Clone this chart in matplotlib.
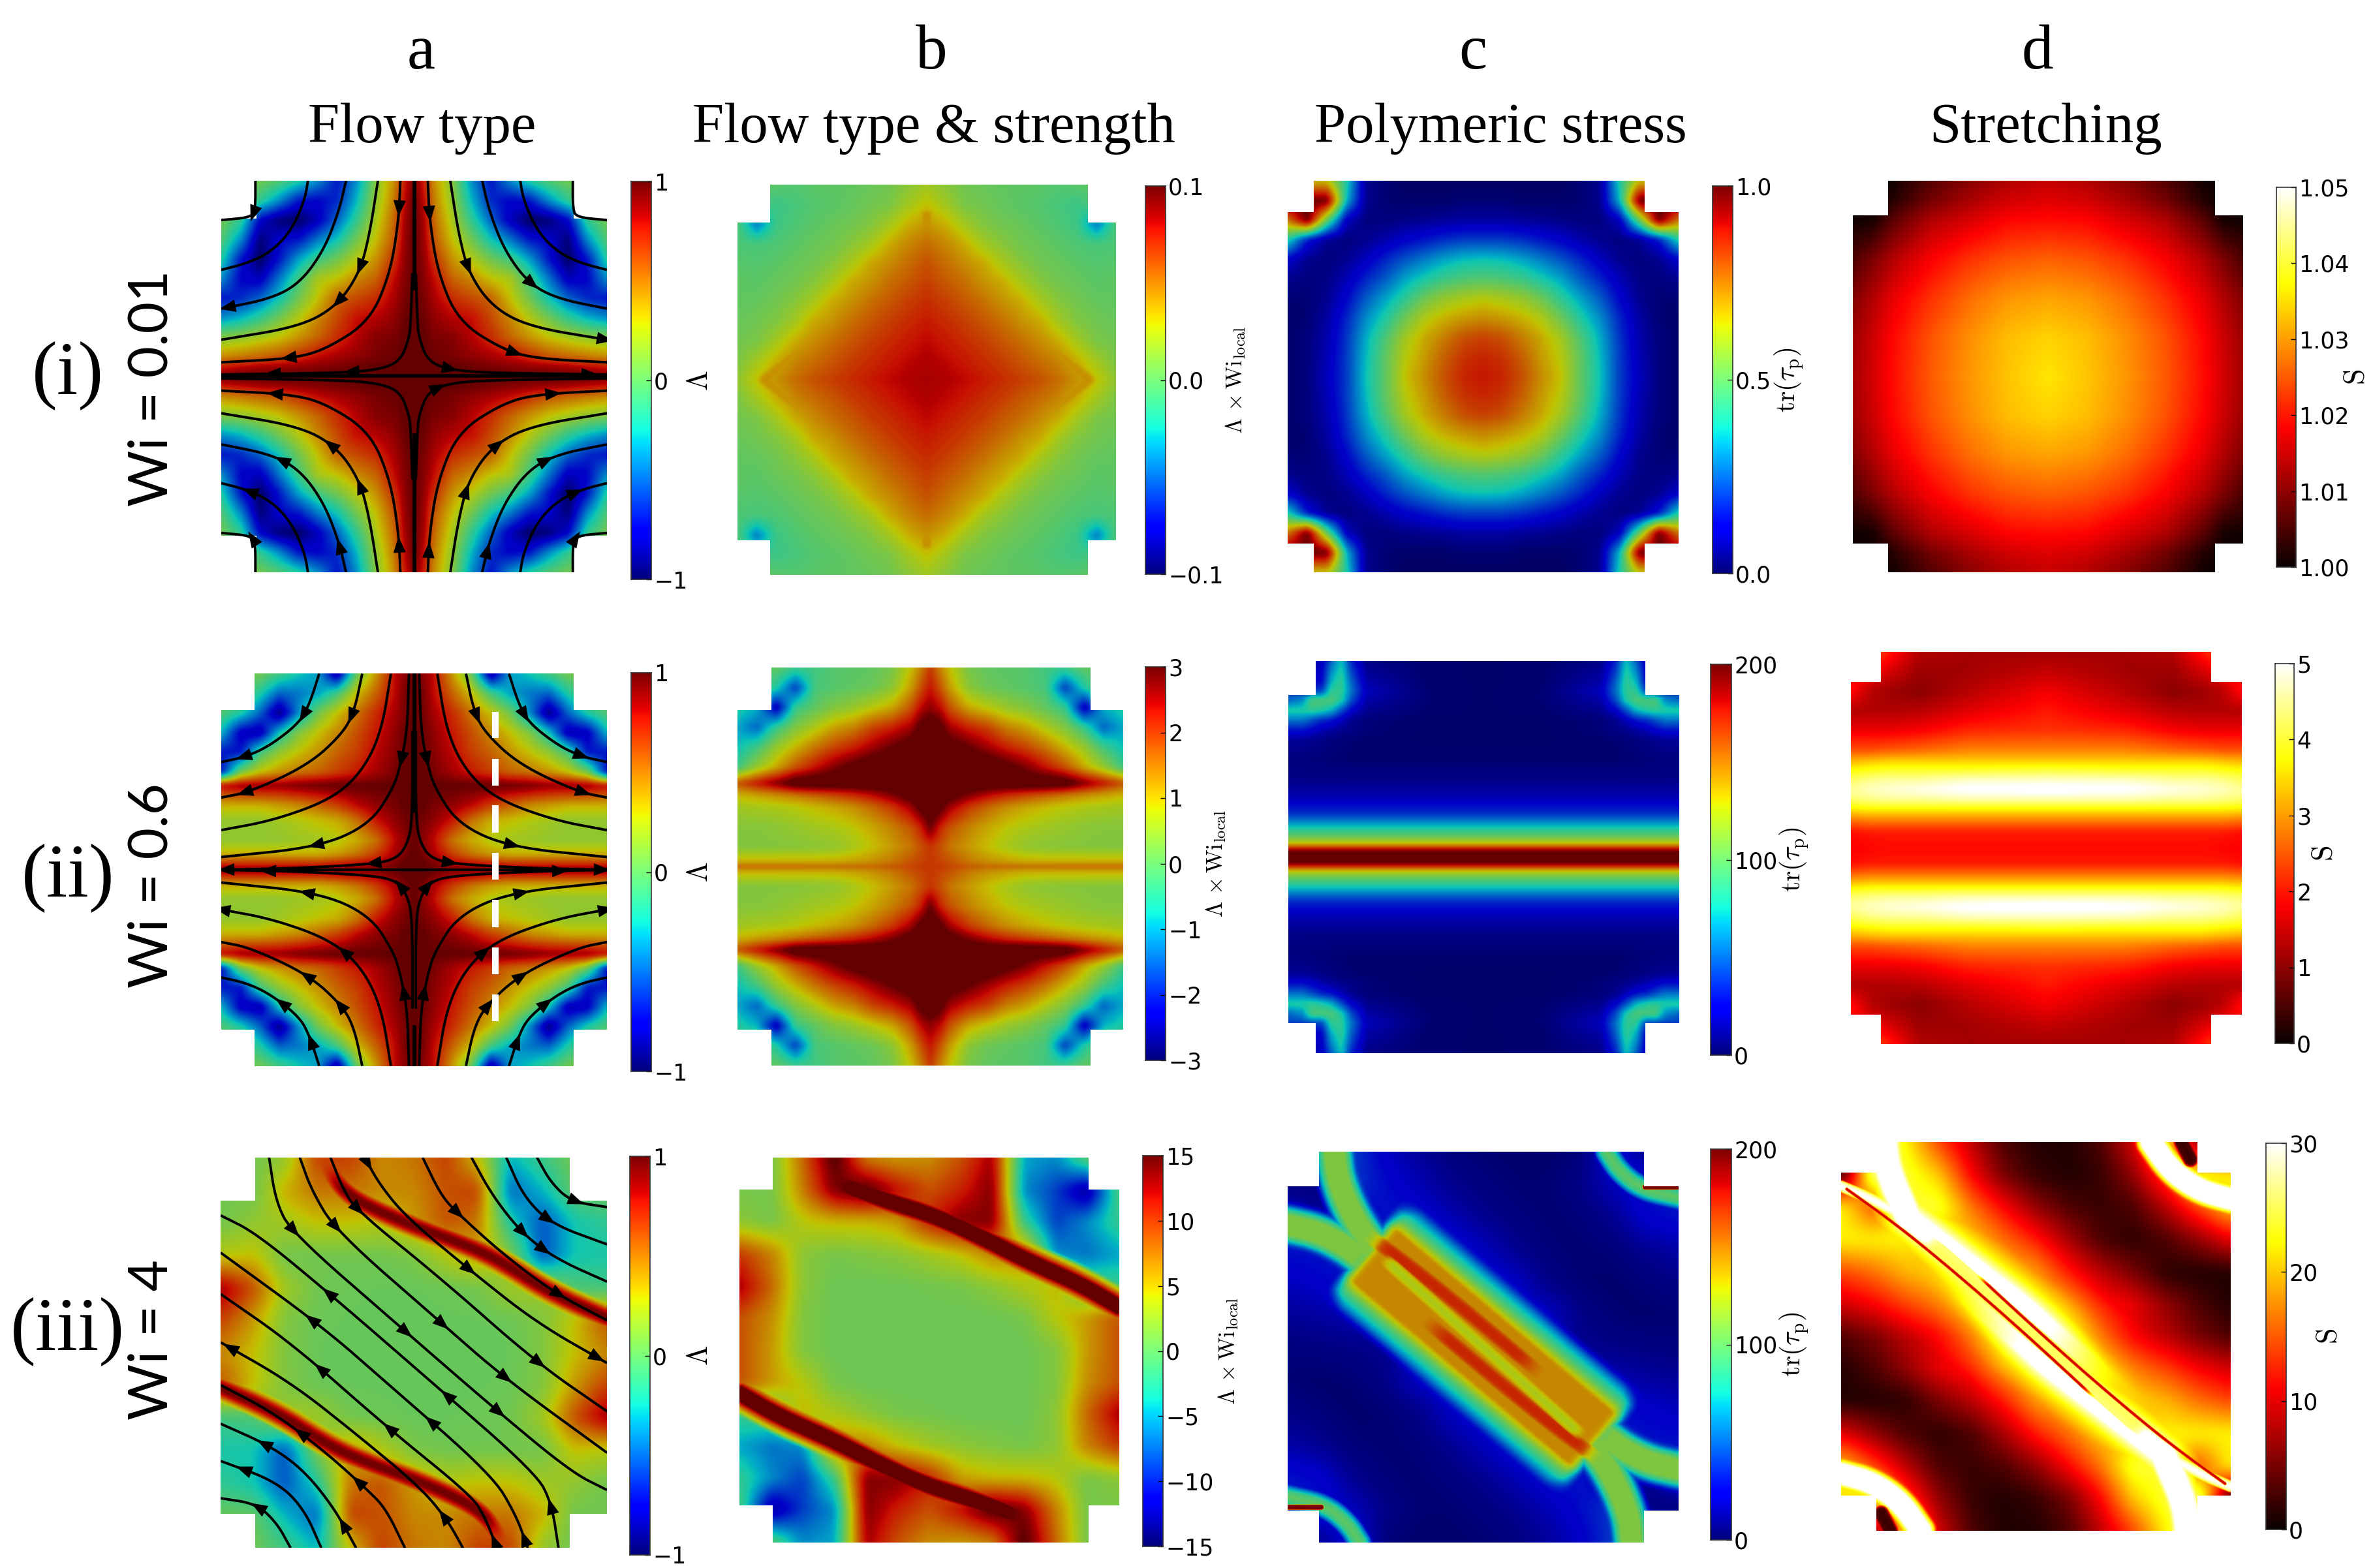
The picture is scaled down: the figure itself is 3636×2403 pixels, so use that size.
import numpy as np
import matplotlib
matplotlib.use('Agg')
import matplotlib.pyplot as plt
from matplotlib.colors import ListedColormap
from matplotlib.patches import Polygon

plt.rcParams['mathtext.fontset'] = 'cm'
W, H = 3637, 2403
NARROW = ['Liberation Sans Narrow', 'DejaVu Sans']

# ---------- data ----------
N_A = [0, .05, .1, .2, .3, .4, .5, .6, .7, .8, .9, 1]
A1 = [[1,1,1,1,1,1,1,1,1,1,1,.95],
 [1,1,1,1,.98,.95,.92,.9,.88,.85,.8,.75],
 [1,1,.98,.95,.9,.85,.8,.7,.6,.55,.5,.45],
 [1,1,.95,.92,.82,.7,.55,.42,.3,.22,.15,.1],
 [1,.98,.9,.82,.78,.62,.45,.25,.05,-.15,-.3,-.4],
 [1,.95,.85,.7,.62,.55,.3,.05,-.25,-.5,-.65,-.7],
 [1,.92,.8,.55,.45,.3,.22,-.1,-.45,-.8,-.75,-.4],
 [1,.9,.7,.42,.25,.05,-.1,-.35,-.7,-1,-.7,-.2],
 [1,.88,.6,.3,.05,-.25,-.45,-.7,-.75,-.95,-.4,-.05],
 [1,.85,.55,.22,-.15,-.5,-.8,-1,-.95,-.75,-.15,.05],
 [1,.8,.5,.15,-.3,-.65,-.75,-.7,-.4,-.15,.05,.05],
 [.95,.75,.45,.1,-.4,-.7,-.4,-.2,-.05,.05,.05,.05]]
Y_A2 = [0,.03,.08,.15,.25,.33,.43,.5,.6,.7,.8,.9,1]
A2 = [[1,1,.98,.95,.95,.95,.95,.95,.95,.95,.95,.95],
 [1,1,.95,.85,.8,.75,.7,.7,.7,.7,.7,.7],
 [1,.95,.85,.65,.5,.4,.35,.35,.35,.35,.35,.35],
 [1,.9,.8,.5,.35,.25,.2,.18,.15,.15,.15,.15],
 [1,.95,.9,.75,.5,.35,.3,.25,.2,.15,.15,.15],
 [1,1,.95,.9,.8,.65,.55,.45,.4,.35,.35,.35],
 [1,1,1,1,1,1,.98,.95,.9,.9,.88,.8],
 [1,1,.95,.85,.75,.65,.55,.5,.42,.3,.05,-.7],
 [1,.98,.92,.8,.65,.55,.42,.3,.15,-.1,-.7,-.7],
 [1,.98,.9,.75,.6,.45,.3,.1,-.25,-.85,-.8,-.3],
 [1,.95,.85,.7,.5,.3,.05,-.4,-.95,-.5,-.2,-.05],
 [1,.95,.8,.55,.3,-.1,-.35,-.45,-.5,-.2,0,.05],
 [1,.9,.8,.4,0,-.9,-.35,-.25,-.1,.05,.05,.05]]
X_A3 = [-1,-.83,-.67,-.5,-.33,-.17,0,.17,.33,.5,.67,.83,1]
Y_A3 = [1,.83,.67,.5,.33,.17,0]
A3 = [[.05,.05,.15,.65,.65,.45,.5,.65,.3,-.3,-.1,.05,.05],
 [.05,.05,.35,.5,.5,.45,.45,.6,.65,-.5,-.3,0,.02],
 [.05,.15,.2,.3,.3,.25,.4,.6,.5,-.2,-.55,-.25,-.15],
 [.25,.3,.05,.05,.05,.05,.08,.25,.4,.1,-.55,-.25,-.22],
 [.9,.6,.2,.05,.03,.02,.02,.03,.05,.2,.2,-.05,-.1],
 [.65,.4,.1,.03,.02,.02,.02,.02,.02,.03,.1,.3,.6],
 [.45,.3,.1,.02,.02,.02,.02,.02,.02,.02,.1,.3,.45]]

N_B1 = [0,.1,.2,.3,.4,.5,.6,.7,.8,.9,1]
B1 = [[.085,.083,.08,.075,.07,.065,.06,.052,.042,.03,.015],
 [.083,.08,.075,.07,.065,.058,.052,.045,.034,.02,.008],
 [.08,.075,.07,.065,.058,.052,.044,.035,.02,.008,.005],
 [.075,.07,.065,.058,.052,.042,.036,.02,.01,.005,.002],
 [.07,.065,.058,.052,.042,.036,.022,.012,.005,.001,0],
 [.065,.058,.052,.042,.036,.022,.012,.005,.002,-.002,0],
 [.06,.052,.044,.036,.022,.012,.005,.002,-.002,-.004,-.003],
 [.052,.045,.035,.02,.012,.005,.002,-.002,-.006,-.008,-.006],
 [.042,.034,.02,.01,.005,.002,-.002,-.006,-.012,-.045,-.006],
 [.03,.02,.008,.005,.001,-.002,-.004,-.008,-.012,-.005,0],
 [.02,.012,.005,.002,0,0,-.002,-.004,-.002,0,0]]
Y_B2 = [0,.02,.1,.2,.3,.36,.42,.5,.6,.7,.8,.9,1]
B2 = [[2,2,1.9,1.8,1.7,1.7,1.7,1.7,1.7,1.7,1.7,1.7],
 [2,1.9,1.8,1.5,1.3,1.2,1.1,1.1,1.1,1.1,1.1,1.1],
 [2,1.8,1.5,1.2,.9,.65,.45,.38,.35,.33,.32,.32],
 [3,2.2,1.8,1.4,1.1,.85,.7,.6,.5,.4,.35,.35],
 [3.5,3.2,2.6,2,1.6,1.3,1.1,.95,.8,.7,.65,.6],
 [3.5,3.5,3.3,2.8,2.4,2.1,1.9,1.7,1.5,1.3,1.15,1],
 [3.5,3.5,3.5,3.5,3.5,3.5,3.5,3.5,3.4,2.8,2.3,1.8],
 [3.5,3.5,3.5,3.5,3.5,3.2,2.8,2.3,1.8,1.1,.5,-.3],
 [3.5,3.5,3.3,3,2.6,2.2,1.9,1.5,1,.5,-.3,-.8],
 [3.5,3.2,2.6,2.2,1.9,1.4,1.15,.7,.3,-.4,-1.5,-1],
 [2.7,2.4,1.8,1.1,.8,.5,.3,0,-.4,-2.5,-.9,-.6],
 [2.3,1.8,1.2,.4,.1,0,-.1,-.25,-1.8,-.6,0,0],
 [2,1.4,.9,.2,0,-.05,-.1,-.3,-.35,0,0,0]]
B3 = [[0,1,8,16,7,6,6.5,9,13,-5,-6,0,1],
 [1,1,7,14,16,12,9,11,14,-6,-9,-14,-1],
 [2,1,4,5,5,6,11,14,14,-2,-9,-6,-2],
 [10,7,2,1,1.5,2,3,4.5,7,7,-6,-7,-5],
 [13,8,2,.5,.5,.5,.8,1,2,3.5,5,-1,-2],
 [9,6.5,1.5,.5,.5,.5,.5,.5,.5,1,4,6,9],
 [9,6,1.5,.5,.5,.5,.5,.5,.5,.5,1.5,6,9]]

C1 = [[.88,.86,.8,.72,.65,.5,.37,.2,.1,.03,.01],
 [.86,.84,.78,.7,.63,.5,.36,.2,.09,.03,.01],
 [.82,.8,.74,.68,.6,.47,.34,.19,.08,.03,.01],
 [.72,.7,.67,.62,.52,.4,.3,.17,.07,.02,.01],
 [.63,.61,.58,.52,.42,.33,.24,.13,.05,.02,.02],
 [.48,.47,.44,.39,.33,.24,.17,.09,.04,.03,.05],
 [.37,.36,.33,.28,.23,.17,.1,.05,.03,.05,.12],
 [.2,.2,.18,.15,.12,.08,.05,.03,.05,.15,.4],
 [.07,.07,.06,.05,.04,.03,.03,.1,.5,1,.75],
 [.02,.02,.01,.01,.01,.02,.05,.35,1,1,1],
 [0,0,0,0,0,.02,.05,.4,.65,.65,.65]]
X_C2 = [0,.3,.6,.68,.73,.78,.83,.88,.93,1]
Y_C2 = [0,.03,.05,.07,.1,.13,.17,.22,.3,.4,.5,.6,.65,.7,.75,.8,.85,.9,1]
C2 = [[210]*10,[200]*10,[165]*10,[130]*10,[105]*10,[88]*10,[65]*10,[38]*10,[18]*10,[8]*10,
 [3,3,3,3,4,4,5,5,6,6],
 [2,2,3,4,5,6,8,10,12,12],
 [2,2,5,8,10,14,18,25,30,30],
 [2,2,5,10,20,30,35,45,55,55],
 [2,3,10,25,45,70,80,85,80,80],
 [2,4,15,45,80,95,95,95,60,50],
 [2,4,20,55,85,85,40,40,40,40],
 [2,3,15,50,85,70,25,25,25,25],
 [2,3,8,35,75,50,20,15,15,15]]
X_C3 = X_A3
C3 = [[5,60,40,22,12,6,4,3,3,5,30,10,5],
 [5,5,40,28,18,10,6,4,4,8,20,30,30],
 [25,10,15,30,28,18,10,6,4,5,10,25,30],
 [30,30,30,30,35,30,20,10,5,4,5,10,15],
 [20,25,30,35,30,30,28,22,8,4,3,5,8],
 [12,14,18,22,30,30,30,30,22,8,4,3,4],
 [6,7,8,10,22,30,30,30,22,10,8,7,6]]
N_D1 = [0,.2,.4,.6,.8,.9,1]
D1 = [[1.0355,1.033,1.0295,1.025,1.019,1.015,1.0115],
 [1.034,1.0325,1.029,1.0245,1.0185,1.0145,1.011],
 [1.0305,1.0295,1.0265,1.022,1.0165,1.0125,1.009],
 [1.0255,1.0245,1.022,1.018,1.0125,1.0085,1.005],
 [1.019,1.0185,1.0155,1.0125,1.006,1.001,1.0005],
 [1.016,1.015,1.012,1.008,1.002,1,1],
 [1.014,1.0125,1.0095,1.0055,1.0005,1,1]]
X_D2 = [0,.4,.65,.8,.9,1]
Y_D2 = [0,.08,.15,.2,.25,.3,.35,.4,.45,.5,.6,.7,.8,.9,1]
D2 = [[1.9,1.9,1.9,1.9,1.85,1.8],
 [2,2,2,2,2,1.9],
 [2.9,2.9,2.9,2.9,2.9,2.8],
 [3.7,3.7,3.7,3.7,3.7,3.6],
 [4.6,4.6,4.5,4.5,4.4,4.3],
 [5.2,5.1,4.9,4.8,4.7,4.5],
 [4.7,4.7,4.5,4.5,4.4,4.2],
 [4,3.9,3.9,3.9,3.8,3.7],
 [3.3,3.3,3.3,3.3,3.2,3.1],
 [2.8,2.8,2.6,2.5,2.4,2.4],
 [2.2,2.1,1.8,1.7,1.7,1.7],
 [2,1.6,1.3,1.25,1.25,1.25],
 [1.75,1.3,.95,1.1,1.3,1.9],
 [1.4,1.15,1.1,1.5,1.8,2],
 [1.15,1.15,1.25,2,2.5,2.5]]
D3 = [[0,28,22,14,8,3,1,1,3,9,22,5,5],
 [1,28,24,20,11,5,2,1,2,6,14,24,22],
 [22,14,24,24,16,11,6,3,2,3,8,14,20],
 [22,22,22,20,20,16,12,7,3,1.5,3,6,10],
 [14,16,19,20,20,20,18,12,8,5,1.5,1,1],
 [9,11,14,16,18,20,20,18,12,10,6,3,1],
 [3,5,8,10,13,17,20,17,13,10,8,5,3]]

# streamline traces, in reference-crop units, inlet to outlet
A1_LINES = [[(1105,85),(1105,190),(1115,222),(1205,232)],
 [(950,85),(960,160),(1000,270),(1060,345),(1130,385),(1205,408)],
 [(838,85),(860,200),(905,340),(975,455),(1060,510),(1205,545)],
 [(745,85),(770,280),(800,420),(870,540),(980,610),(1205,655)],
 [(680,85),(685,230),(710,420),(770,590),(900,690),(1000,722),(1205,735)],
 [(645,420),(650,600),(655,650),(680,730),(740,760),(850,772),(1205,778)]]
A1_ARROWS = [(680,205),(790,405),(980,460),(930,705),(1195,650),(745,757),(603,190),(495,390),(430,515),
 (100,535),(280,715),(465,767),(180,205),(415,1020),(258,1075),(170,1185),(245,835),(180,1350),(495,1175),
 (435,1385),(598,1390),(865,1020),(1025,1075),(1105,1185),(1035,835),(1100,1350),(780,1195),(845,1405),
 (683,1410),(705,820),(1140,782),(215,785)]
A2_LINES = [[(918,98),(945,200),(975,270),(1060,350),(1130,390),(1205,410)],
 [(792,98),(815,230),(850,310),(950,420),(1120,515),(1205,535)],
 [(708,98),(735,300),(790,440),(880,540),(1050,615),(1205,650)],
 [(655,98),(660,300),(680,420),(700,500),(770,630),(920,710),(1205,745)],
 [(645,300),(645,620),(660,700),(690,750),(760,770),(1000,785),(1205,790)]]
A2_ARROWS = [(320,245),(460,240),(145,385),(155,515),(610,400),(345,710),(530,770),(100,785),(215,800),(605,845),
 (330,870),(80,935),(820,240),(960,245),(1130,385),(1125,515),(670,400),(935,710),(745,770),(1060,800),(1180,785),
 (675,845),(950,870),(1200,935),(445,1070),(340,1155),(260,1255),(435,1270),(350,1395),(610,1225),(670,1225),
 (830,1070),(935,1155),(1015,1255),(845,1270),(930,1395)]
A3_LINES = [[(1000,80),(1040,170),(1100,240),(1205,260)],
 [(910,80),(960,220),(1040,320),(1205,395)],
 [(808,80),(870,220),(960,360),(1060,450),(1205,530)],
 [(665,80),(720,220),(770,285),(900,430),(1050,570),(1205,670)],
 [(495,80),(540,180),(620,300),(810,495),(1000,680),(1205,825)],
 [(395,80),(430,190),(470,270),(720,520),(995,820),(1205,1000)],
 [(305,80),(340,200),(410,345),(720,680),(905,880),(1205,1150)],
 [(215,80),(235,240),(280,350),(600,695),(875,990),(1100,1220),(1205,1285)]]
A3_ARROWS = [(510,95),(280,350),(405,345),(470,270),(765,285),(605,695),(720,680),(805,490),(1030,300),(950,360),
 (1005,420),(1115,238),(1050,570),(995,820),(905,880),(875,990),(1180,805),(100,800),(360,590),(330,695),(360,870),
 (740,980),(685,1065),(575,1090),(295,1090),(195,1145),(145,1250),(470,1265),(180,1375),(430,1430),(715,1405),
 (870,1485),(965,1470),(1040,1355)]
DASH_STARTS = [232,398,563,730,897,1063,1229]
DASH_ENDS = [325,492,658,825,992,1158,1324]

# ridges: path in crop units, (distance px, value) profile, fade lengths at each end, blend mode
B1_RIDGES = [([(597,215),(600,300),(720,410),(850,590),(1000,730),(1060,795)],
              [(0,.043),(5,.041),(12,.03),(20,.012)], (0,0), 'max'),
             ([(597,215),(594,300),(474,410),(344,590),(194,730),(134,795)],
              [(0,.043),(5,.041),(12,.03),(20,.012)], (0,0), 'max')]
A3_RIDGES = [([(380,80),(400,150),(460,230),(620,320),(800,400),(900,460),(1040,570),(1205,660)],
              [(0,.97),(4,.95),(10,.75),(16,.4),(24,.15)], (60,0), 'max')]
B3_RIDGES = [([(340,170),(470,230),(620,290),(750,365),(880,450),(1040,540),(1148,620)],
              [(0,17),(9,16),(15,10),(22,4.5),(32,1.5)], (40,0), 'max')]
C3_RIDGES = [([(270,395),(621,768),(970,1140)], [(0,145),(50,145),(58,125),(68,100),(84,70),(110,30)], (40,40), 'max'),
 ([(195,60),(205,170),(262,330),(340,450)], [(0,110),(14,110),(22,85),(30,45),(40,25)], (0,30), 'max'),
 ([(62,325),(150,350),(240,410),(300,480)], [(0,110),(14,110),(22,85),(30,45),(40,25)], (0,30), 'max'),
 ([(285,355),(480,540),(800,880)], [(0,172),(6,170),(14,145)], (50,60), 'max'),
 ([(330,440),(621,768),(912,1096)], [(0,122),(6,128),(12,145)], (30,30), 'blend'),
 ([(975,60),(1010,130),(1075,195),(1180,225)], [(0,100),(8,90),(14,60),(22,20)], (0,0), 'max'),
 ([(1085,187),(1180,187)], [(0,195),(3,195),(5,120)], (0,0), 'max')]
D3_RIDGES = [([(262,335),(400,470),(620,680),(800,870),(960,1050)], [(0,33),(10,33),(18,28),(32,22),(60,16),(90,11),(130,4)], (0,300), 'max'),
 ([(195,70),(205,170),(262,335)], [(0,33),(14,33),(24,24),(40,16)], (0,0), 'max'),
 ([(75,225),(160,270),(262,340)], [(0,31),(5,28),(10,22)], (0,0), 'max'),
 ([(945,70),(1000,170),(1080,240),(1167,270)], [(0,33),(13,33),(18,25),(28,12)], (0,0), 'max'),
 ([(1030,70),(1055,130)], [(0,2),(8,3),(14,14)], (0,0), 'blend'),
 ([(300,400),(621,753),(942,1107)], [(0,25),(9,26),(14,24)], (40,40), 'blend'),
 ([(90,235),(240,370),(400,535),(560,710),(700,870),(790,975)], [(0,8),(1.5,10),(3,24)], (0,30), 'blend')]

TITLES = ['Flow type', 'Flow type & strength', 'Polymeric stress', 'Stretching']
LETTERS = ['a', 'b', 'c', 'd']
ROWS = ['(i)', '(ii)', '(iii)']
WI = ['Wi = 0.01', 'Wi = 0.6', 'Wi = 4']

# ---------- layout (pixels) ----------
# left,right,top,bottom, notch-left,notch-right,notch-top,notch-bottom
P = {'a1':(339,930,277,877,393,879,335,821),'a2':(339,930,1032,1634,390,879,1088,1578),'a3':(338,930,1774,2372,391,873,1840,2320),
     'b1':(1130,1710,283,881,1180,1667,341,828),'b2':(1130,1721,1023,1633,1182,1671,1088,1578),'b3':(1133,1715,1774,2364,1184,1668,1823,2307),
     'c1':(1973,2572,277,877,2013,2520,325,833),'c2':(1974,2573,1013,1614,2016,2521,1065,1568),'c3':(1973,2572,1765,2364,2021,2519,1818,2315),
     'd1':(2839,3437,277,877,2893,3394,330,833),'d2':(2836,3435,999,1600,2882,3388,1045,1555),'d3':(2821,3418,1750,2346,2875,3367,1797,2292)}
# colorbar left,right,top,bottom, label x
CB = {'a1':(967,998,278,888,1071),'a2':(967,998,1031,1642,1071),'a3':(965,996,1772,2383,1071),
      'b1':(1755,1786,285,880,1893),'b2':(1755,1786,1022,1625,1863),'b3':(1751,1782,1771,2370,1882),
      'c1':(2624,2655,285,879,2741),'c2':(2621,2653,1018,1617,2749),'c3':(2621,2653,1761,2360,2749),
      'd1':(3488,3518,287,869,3610),'d2':(3486,3515,1017,1599,3561),'d3':(3472,3503,1752,2344,3568)}
# reference-crop centre and half widths, for the crop-unit traces
Z = {'a1':(640,785,565,692),'a2':(640,790,565,693),'a3':(639,787.5,566,707),'b1':(597,795,542,690),
     'b3':(605,777.5,543,697.5),'c3':(621,768,559,708),'d3':(621,753.5,546,683.5)}

jet = plt.get_cmap('jet')
dim_jet = ListedColormap(jet(np.linspace(0, 1, 256)) * np.array([.78, .78, .78, 1]))
hot = plt.get_cmap('hot')

fig = plt.figure(figsize=(W/100, H/100), dpi=100, facecolor='white')
N_FINE = 600


def quad(xn, yn, t):
    t = np.array(t, float)
    xs = np.r_[-np.array(xn[:0:-1], float), xn]
    ys = np.r_[-np.array(yn[:0:-1], float), yn]
    t = np.hstack([t[:, :0:-1], t])
    t = np.vstack([t[:0:-1], t])
    return xs, ys, t


def point(xn, yn, t):
    # rows run from the top edge to the middle; the lower half is the upper half turned by 180 degrees
    t = np.array(t, float)
    low = t[:-1][:, ::-1]
    up = t[::-1]
    ys = np.r_[-np.array(yn[:-1], float), np.array(yn, float)[::-1]]
    return np.array(xn, float), ys, np.vstack([low, up])


def fine(xs, ys, t, r):
    g = np.linspace(-1, 1, N_FINE)
    a = np.array([np.interp(g, xs, row) for row in t])
    b = np.array([np.interp(g, ys, col) for col in a.T]).T
    k = np.ones(2*r+1) / (2*r+1)
    for _ in range(2):
        b = np.apply_along_axis(lambda v: np.convolve(np.pad(v, r, mode='edge'), k, 'valid'), 0, b)
        b = np.apply_along_axis(lambda v: np.convolve(np.pad(v, r, mode='edge'), k, 'valid'), 1, b)
    return b


def smooth(pts, n=3):
    p = np.array(pts, float)
    for _ in range(n):
        q = [p[0]]
        for a, b in zip(p[:-1], p[1:]):
            q += [.75*a+.25*b, .25*a+.75*b]
        q.append(p[-1])
        p = np.array(q)
    return p


def norm_pts(key, pts):
    cx, cy, hx, hy = Z[key]
    p = np.asarray(pts, float)
    return np.c_[(p[:, 0]-cx)/hx, (cy-p[:, 1])/hy]


def apply_ridges(F, key, ridges):
    L, R, T, B = P[key][:4]
    hx, hy = (R-L)/2, (B-T)/2
    g = np.linspace(-1, 1, N_FINE)
    X, Y = np.meshgrid(g*hx, g*hy)
    for path, prof, fade, mode in ridges:
        base = smooth(norm_pts(key, path))
        for q in (base, -base):
            px = q * [hx, hy]
            best = np.full(X.shape, 1e12)
            along = np.zeros(X.shape)
            run = 0.0
            for a, b in zip(px[:-1], px[1:]):
                v = b-a
                l2 = (v**2).sum() or 1.0
                u = np.clip(((X-a[0])*v[0]+(Y-a[1])*v[1])/l2, 0, 1)
                d2 = (X-a[0]-u*v[0])**2 + (Y-a[1]-u*v[1])**2
                m = d2 < best
                best[m] = d2[m]
                along[m] = run + u[m]*np.sqrt(l2)
                run += np.sqrt(l2)
            d = np.sqrt(best)
            ds = [p_[0] for p_ in prof]
            vs = [p_[1] for p_ in prof]
            val = np.interp(d, ds, vs)
            w = np.clip((ds[-1]-d)/(.3*ds[-1]), 0, 1)
            if fade[0] > 0:
                w = w*np.clip(along/fade[0], 0, 1)
            if fade[1] > 0:
                w = w*np.clip((run-along)/fade[1], 0, 1)
            w = w*w*(3-2*w)
            new = (1-w)*F + w*val
            F = np.maximum(F, new) if mode == 'max' else new
    return F


def panel(key, xs, ys, t, vmin, vmax, cmap, r=4, ridges=None):
    L, R, T, B, nl, nr, nt, nb = P[key]
    ax = fig.add_axes([L/W, 1-B/H, (R-L)/W, (B-T)/H])
    ax.set_xlim(-1, 1); ax.set_ylim(-1, 1); ax.axis('off')
    F = fine(xs, ys, t, r)
    if ridges:
        F = apply_ridges(F, key, ridges)
    im = ax.imshow(F, origin='lower', extent=[-1, 1, -1, 1], aspect='auto',
                   cmap=cmap, vmin=vmin, vmax=vmax, interpolation='bilinear')
    a, b = 2*(nl-L)/(R-L)-1, 2*(nr-L)/(R-L)-1
    c, d = 1-2*(nt-T)/(B-T), 1-2*(nb-T)/(B-T)
    poly = Polygon([(a,1),(b,1),(b,c),(1,c),(1,d),(b,d),(b,-1),(a,-1),(a,d),(-1,d),(-1,c),(a,c)],
                   closed=True, transform=ax.transData, facecolor='none', edgecolor='none')
    ax.add_patch(poly)
    im.set_clip_path(poly)
    return ax


def arrows(ax, key, lines, spots, size=25):
    L, R, T, B = P[key][:4]
    hx, hy = (R-L)/2, (B-T)/2
    s = norm_pts(key, spots)
    for x, y in s:
        best, tan, pos = 1e9, (1, 0), (x, y)
        for q in lines:
            d = (q[:, 0]-x)**2 + (q[:, 1]-y)**2
            i = int(d.argmin())
            if d[i] < best:
                best = d[i]
                a, b = q[max(i-2, 0)], q[min(i+2, len(q)-1)]
                tan = b-a
                pos = q[i]
        tx, ty = tan[0]*hx, tan[1]*hy
        n = np.hypot(tx, ty) or 1
        tx, ty = tx/n, ty/n
        tip = (pos[0]+tx*size*.6/hx, pos[1]+ty*size*.6/hy)
        b1 = (pos[0]-tx*size*.4/hx-ty*size*.38/hx, pos[1]-ty*size*.4/hy+tx*size*.38/hy)
        b2 = (pos[0]-tx*size*.4/hx+ty*size*.38/hx, pos[1]-ty*size*.4/hy-tx*size*.38/hy)
        ax.add_patch(Polygon([tip, b1, b2], closed=True, facecolor='k', edgecolor='none', zorder=6))


def draw_lines(ax, lines):
    for q in lines:
        ax.plot(q[:, 0], q[:, 1], color='k', lw=2.8, zorder=5, solid_capstyle='butt')


def mirrored(key, raw):
    out = []
    for r in raw:
        q = smooth(norm_pts(key, r))
        out += [q, q*[-1, 1], q*[1, -1], q*[-1, -1]]
    return out


def rotated(key, raw):
    out = []
    for r in raw:
        q = smooth(norm_pts(key, r))
        out += [q, -q]
    return out


def colorbar(key, vmin, vmax, cmap, ticks, labels, label, lsize=25):
    l, r, t, b, lx = CB[key]
    ax = fig.add_axes([l/W, 1-b/H, (r-l)/W, (b-t)/H])
    ax.imshow(np.linspace(vmin, vmax, 256)[:, None], origin='lower', aspect='auto', cmap=cmap,
              vmin=vmin, vmax=vmax, extent=[0, 1, vmin, vmax])
    ax.set_xticks([])
    ax.yaxis.tick_right()
    ax.set_yticks(ticks)
    ax.set_yticklabels(labels, fontsize=25, family=NARROW)
    ax.tick_params(axis='y', direction='in', length=6, width=1, pad=3, color='k')
    for s in ax.spines.values():
        s.set_linewidth(1.2); s.set_color('#333333')
    fig.text(lx/W, 1-(t+b)/2/H, label, rotation=90, ha='center', va='center', fontsize=lsize)


# ---------- panel a ----------
xs, ys, t = quad(N_A, N_A, A1)
ax = panel('a1', xs, ys, t, -1, 1, dim_jet, 3)
ls = mirrored('a1', A1_LINES)
draw_lines(ax, ls)
ax.plot([-1, 1], [.002, .002], color='k', lw=4, zorder=5)
ax.plot([0, 0], [-1, -.3], color='k', lw=4, zorder=5)
ax.plot([0, 0], [.45, 1], color='k', lw=4, zorder=5)
arrows(ax, 'a1', ls, A1_ARROWS)

xs, ys, t = quad(N_A, Y_A2, A2)
ax = panel('a2', xs, ys, t, -1, 1, dim_jet, 3)
ls = mirrored('a2', A2_LINES)
draw_lines(ax, ls)
ax.plot([-1, 1], [0, 0], color='k', lw=3, zorder=5)
ax.plot([0, 0], [-1, -.8], color='k', lw=4, zorder=5)
ax.plot([0, 0], [.3, 1], color='k', lw=4, zorder=5)
arrows(ax, 'a2', ls, A2_ARROWS)
cx, cy, hx, hy = Z['a2']
ax.vlines([(878-cx)/hx]*len(DASH_ENDS), [(cy-e)/hy for e in DASH_ENDS], [(cy-s)/hy for s in DASH_STARTS],
          color='white', lw=7.2, zorder=7)

xs, ys, t = point(X_A3, Y_A3, A3)
ax = panel('a3', xs, ys, t, -1, 1, dim_jet, 9, A3_RIDGES)
ls = rotated('a3', A3_LINES)
draw_lines(ax, ls)
arrows(ax, 'a3', ls, A3_ARROWS)

# ---------- panel b ----------
xs, ys, t = quad(N_B1, N_B1, B1)
panel('b1', xs, ys, t, -.1, .1, dim_jet, 3, B1_RIDGES)
xs, ys, t = quad(N_A, Y_B2, B2)
panel('b2', xs, ys, t, -3, 3, dim_jet, 3)
xs, ys, t = point(X_A3, Y_A3, B3)
panel('b3', xs, ys, t, -15, 15, dim_jet, 7, B3_RIDGES)

# ---------- panel c ----------
xs, ys, t = quad(N_B1, N_B1, C1)
panel('c1', xs, ys, t, 0, 1, dim_jet, 4)
xs, ys, t = quad(X_C2, Y_C2, C2)
panel('c2', xs, ys, t, 0, 200, dim_jet, 3)
xs, ys, t = point(X_C3, Y_A3, C3)
panel('c3', xs, ys, t, 0, 200, dim_jet, 12, C3_RIDGES)

# ---------- panel d ----------
xs, ys, t = quad(N_D1, N_D1, D1)
panel('d1', xs, ys, t, 1, 1.05, hot, 4)
xs, ys, t = quad(X_D2, Y_D2, D2)
panel('d2', xs, ys, t, 0, 5, hot, 4)
xs, ys, t = point(X_C3, Y_A3, D3)
panel('d3', xs, ys, t, 0, 30, hot, 10, D3_RIDGES)

# ---------- colorbars ----------
L_A = r'$\Lambda$'
L_B = r'$\Lambda\,\times\mathrm{Wi}_{\mathrm{local}}$'
L_C = r'$\mathrm{tr}(\tau_{\mathrm{p}})$'
L_D = r'$\mathrm{S}$'
for k in ('a1', 'a2', 'a3'):
    colorbar(k, -1, 1, jet, [-1, 0, 1], ['\u22121', '0', '1'], L_A, 32)
colorbar('b1', -.1, .1, jet, [-.1, 0, .1], ['\u22120.1', '0.0', '0.1'], L_B)
colorbar('b2', -3, 3, jet, list(range(-3, 4)), ['\u22123', '\u22122', '\u22121', '0', '1', '2', '3'], L_B)
colorbar('b3', -15, 15, jet, list(range(-15, 16, 5)), ['\u221215', '\u221210', '\u22125', '0', '5', '10', '15'], L_B)
colorbar('c1', 0, 1, jet, [0, .5, 1], ['0.0', '0.5', '1.0'], L_C, 30)
colorbar('c2', 0, 200, jet, [0, 100, 200], ['0', '100', '200'], L_C, 30)
colorbar('c3', 0, 200, jet, [0, 100, 200], ['0', '100', '200'], L_C, 30)
colorbar('d1', 1, 1.05, hot, [1, 1.01, 1.02, 1.03, 1.04, 1.05], ['1.00', '1.01', '1.02', '1.03', '1.04', '1.05'], L_D, 32)
colorbar('d2', 0, 5, hot, list(range(6)), ['0', '1', '2', '3', '4', '5'], L_D, 32)
colorbar('d3', 0, 30, hot, [0, 10, 20, 30], ['0', '10', '20', '30'], L_D, 32)

# ---------- headings ----------
for s, x in zip(LETTERS, [645, 1427, 2257, 3122]):
    fig.text(x/W, 1-82/H, s, ha='center', va='center', fontsize=70, family='Liberation Serif')
for s, x in zip(TITLES, [647, 1431, 2299, 3135]):
    fig.text(x/W, 1-197/H, s, ha='center', va='center', fontsize=62.5, family='Liberation Serif')
for s, x, y in zip(ROWS, [104, 104, 104], [575, 1345, 2040]):
    fig.text(x/W, 1-y/H, s, ha='center', va='center', fontsize=84, family='Liberation Serif')
for s, y in zip(WI, [595, 1357, 2053]):
    fig.text(234/W, 1-y/H, s, rotation=90, ha='center', va='center', fontsize=60, family='Lato')

fig.savefig('out.png', dpi=100, facecolor='white')
